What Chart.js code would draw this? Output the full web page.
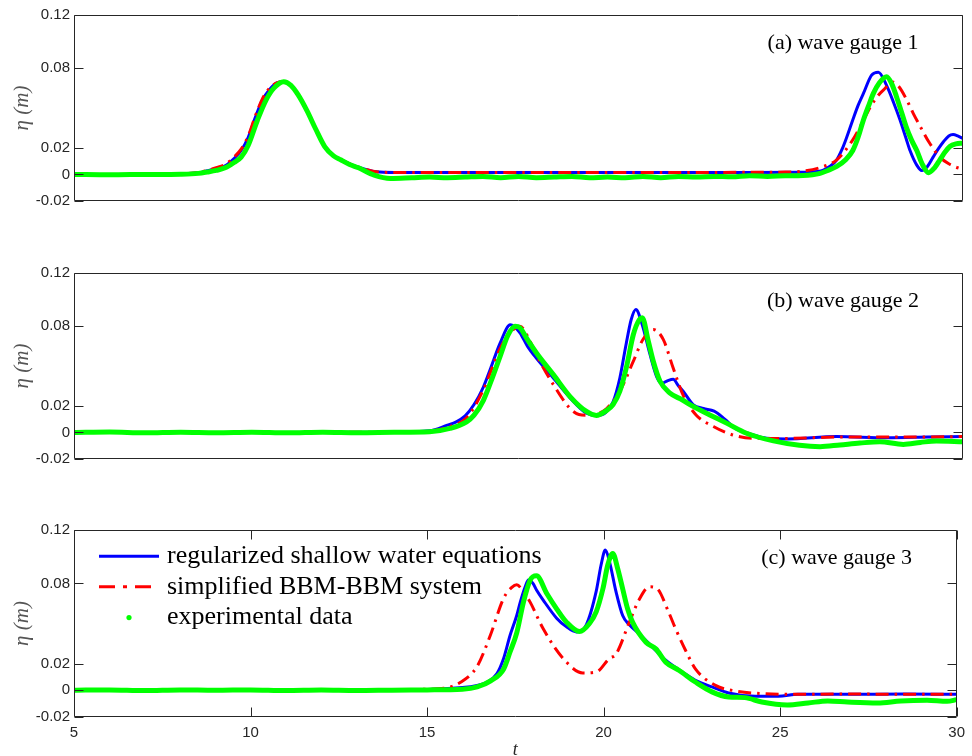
<!DOCTYPE html>
<html>
<head>
<meta charset="utf-8">
<script src="https://cdn.jsdelivr.net/npm/chart.js@4.4.1/dist/chart.umd.min.js"></script>
<style>
  html, body { margin: 0; padding: 0; background: #fff; }
  #wrap { position: relative; width: 972px; height: 756px; }
  #wrap canvas { position: absolute; left: 0; top: 0; }
</style>
</head>
<body>
<div id="wrap">
  <canvas id="gauge1" width="972" height="756"></canvas>
  <canvas id="gauge2" width="972" height="756"></canvas>
  <canvas id="gauge3" width="972" height="756"></canvas>
</div>
<script>
// axis ticks, same for the three gauges
const xTicks = [5, 10, 15, 20, 25, 30];
const yTicks = [-0.02, 0, 0.02, 0.08, 0.12];
const yTickLabels = ['-0.02', '0', '0.02', '0.08', '0.12'];

const seriesNames = ['regularized shallow water equations', 'simplified BBM-BBM system', 'experimental data'];
const panelTitles = ['(a) wave gauge 1', '(b) wave gauge 2', '(c) wave gauge 3'];

// wave gauge 1, [t, eta]
const gauge1Rsw = [[5,0],[7,0],[8,0.0004],[8.5,0.0012],[8.75,0.0028],[9,0.0045],[9.25,0.0065],[9.5,0.012],[9.7,0.018],[9.9,0.028],[10.1,0.043],[10.3,0.056],[10.5,0.064],[10.7,0.069],[10.9,0.0698],[11.1,0.067],[11.3,0.06],[11.55,0.048],[11.8,0.034],[12.05,0.021],[12.3,0.014],[12.5,0.011],[12.75,0.008],[13,0.0055],[13.5,0.002],[14,0.0015],[18,0.0015],[22,0.0015],[24,0.0015],[25.5,0.0017],[26,0.0026],[26.25,0.006],[26.45,0.011],[26.6,0.019],[26.73,0.028],[26.9,0.041],[27.05,0.052],[27.2,0.061],[27.43,0.0748],[27.62,0.077],[27.85,0.067],[28.05,0.054],[28.23,0.041],[28.4,0.027],[28.51,0.018],[28.7,0.007],[28.84,0.003],[29,0.006],[29.16,0.013],[29.3,0.019],[29.45,0.0246],[29.6,0.029],[29.72,0.03],[29.85,0.029],[30,0.027]];
const gauge1Bbm = [[5,0],[7,0],[8,0.0005],[8.5,0.0014],[8.75,0.003],[9,0.005],[9.25,0.0075],[9.5,0.013],[9.7,0.019],[9.9,0.029],[10.1,0.044],[10.3,0.057],[10.5,0.065],[10.7,0.069],[10.9,0.0698],[11.1,0.067],[11.3,0.06],[11.55,0.048],[11.8,0.034],[12.05,0.021],[12.3,0.014],[12.5,0.011],[12.75,0.008],[13,0.0055],[13.5,0.002],[14,0.0015],[18,0.0015],[22,0.0015],[24,0.0016],[25,0.0018],[25.5,0.0025],[26,0.0053],[26.45,0.011],[26.9,0.026],[27.15,0.038],[27.4,0.051],[27.6,0.059],[27.76,0.0635],[28.03,0.0695],[28.2,0.066],[28.42,0.056],[28.6,0.046],[28.8,0.036],[29.05,0.024],[29.35,0.013],[29.6,0.008],[29.9,0.0046],[30,0.004]];
const gauge1Exp = [[5,0],[6,-0.0003],[7,0],[8,0.0002],[8.5,0.0008],[8.75,0.0018],[9,0.003],[9.25,0.005],[9.5,0.009],[9.7,0.013],[9.9,0.022],[10.16,0.041],[10.4,0.056],[10.62,0.065],[10.9,0.0698],[11.1,0.067],[11.3,0.06],[11.55,0.048],[11.8,0.034],[12.05,0.021],[12.3,0.014],[12.5,0.011],[12.75,0.0075],[13,0.005],[13.44,-0.0005],[13.9,-0.003],[14.5,-0.0025],[15,-0.002],[15.5,-0.0025],[16,-0.002],[16.5,-0.0015],[17,-0.0025],[17.5,-0.0015],[18,-0.0025],[18.5,-0.002],[19,-0.0015],[19.5,-0.0025],[20,-0.002],[20.5,-0.0025],[21,-0.0015],[21.5,-0.0025],[22,-0.0015],[22.5,-0.002],[23,-0.0015],[23.5,-0.0018],[24,-0.001],[24.5,-0.0015],[25,-0.001],[25.5,-0.0008],[25.98,0.0008],[26.2,0.003],[26.45,0.006],[26.7,0.011],[26.9,0.018],[27.05,0.028],[27.2,0.041],[27.35,0.052],[27.48,0.061],[27.65,0.069],[27.85,0.0735],[28,0.068],[28.13,0.0585],[28.27,0.047],[28.4,0.036],[28.55,0.026],[28.7,0.018],[28.85,0.008],[29.03,0.0013],[29.2,0.005],[29.35,0.011],[29.5,0.017],[29.63,0.021],[29.8,0.023],[30,0.0235]];

// wave gauge 2
const gauge2Rsw = [[5,0],[10,0],[14,0.0002],[15,0.0012],[15.5,0.0055],[15.75,0.008],[16,0.0125],[16.25,0.021],[16.51,0.034],[16.72,0.0485],[16.98,0.067],[17.27,0.081],[17.54,0.075],[17.75,0.065],[18,0.056],[18.48,0.041],[18.95,0.026],[19.41,0.0145],[19.69,0.0128],[19.95,0.015],[20.16,0.023],[20.35,0.041],[20.53,0.067],[20.67,0.085],[20.8,0.0925],[20.98,0.081],[21.2,0.0585],[21.4,0.041],[21.53,0.037],[21.7,0.039],[21.85,0.04],[22,0.035],[22.13,0.031],[22.41,0.021],[22.7,0.018],[23,0.016],[23.3,0.01],[23.6,0.003],[24,-0.001],[24.48,-0.0044],[25.04,-0.0049],[26.45,-0.0031],[27.85,-0.004],[29,-0.0035],[30,-0.003]];
const gauge2Bbm = [[5,0],[10,0],[14,0.0002],[15,0.001],[15.57,0.0045],[16.04,0.011],[16.51,0.032],[16.98,0.063],[17.3,0.076],[17.54,0.08],[17.8,0.07],[18,0.0585],[18.48,0.036],[18.95,0.018],[19.2,0.0135],[19.41,0.013],[19.7,0.014],[19.98,0.018],[20.35,0.031],[20.73,0.0536],[21,0.07],[21.29,0.0775],[21.57,0.07],[21.85,0.0485],[22.13,0.028],[22.5,0.013],[22.98,0.0045],[23.54,-0.002],[24.1,-0.0044],[25,-0.0045],[26.5,-0.0035],[28,-0.0035],[29,-0.0035],[30,-0.003]];
const gauge2Exp = [[5,0],[6,0.0003],[7,-0.0003],[8,0.0002],[9,-0.0002],[10,0.0002],[11,-0.0003],[12,0.0002],[13,-0.0002],[14,0.0001],[15,0.0005],[15.57,0.003],[16.04,0.008],[16.25,0.013],[16.51,0.024],[16.72,0.038],[16.98,0.057],[17.2,0.073],[17.4,0.08],[17.54,0.0788],[17.75,0.07],[18,0.06],[18.48,0.0435],[18.95,0.027],[19.41,0.0158],[19.69,0.0128],[19.95,0.016],[20.16,0.021],[20.35,0.031],[20.53,0.0485],[20.73,0.0737],[20.9,0.085],[20.98,0.0863],[21.15,0.0687],[21.29,0.0536],[21.48,0.0385],[21.76,0.0296],[22.1,0.0246],[22.41,0.0196],[22.88,0.0132],[23.35,0.007],[23.91,-0.0006],[24.67,-0.0064],[25.4,-0.0097],[25.98,-0.0107],[26.54,-0.0094],[27.1,-0.008],[27.66,-0.007],[28.32,-0.009],[28.8,-0.0075],[29.25,-0.0064],[30,-0.007]];

// wave gauge 3
const gauge3Rsw = [[5,0],[10,0],[14,0.0002],[15,0.0005],[16,0.002],[16.42,0.0037],[16.7,0.006],[16.98,0.0125],[17.17,0.024],[17.35,0.041],[17.54,0.056],[17.64,0.066],[17.78,0.0775],[17.87,0.0825],[18,0.08],[18.1,0.075],[18.29,0.0675],[18.67,0.054],[18.95,0.0475],[19.23,0.0437],[19.51,0.049],[19.79,0.074],[19.93,0.094],[20.05,0.105],[20.17,0.096],[20.35,0.074],[20.54,0.056],[20.73,0.049],[21,0.0425],[21.38,0.0325],[21.76,0.0225],[22.23,0.0137],[22.6,0.0075],[23.07,0.0025],[23.54,-0.002],[24.29,-0.0045],[24.95,-0.0045],[25.5,-0.003],[27,-0.003],[28.5,-0.0028],[30,-0.003]];
const gauge3Bbm = [[5,0],[10,0],[14,0.0002],[15,0.0008],[15.48,0.0015],[15.95,0.006],[16.42,0.018],[16.79,0.041],[17.17,0.069],[17.4,0.077],[17.54,0.079],[17.7,0.075],[17.92,0.066],[18.29,0.046],[18.85,0.024],[19.41,0.013],[19.79,0.0137],[20.17,0.024],[20.35,0.027],[20.73,0.051],[21,0.0675],[21.3,0.0775],[21.5,0.0765],[21.85,0.058],[22.04,0.046],[22.32,0.03],[22.6,0.016],[23.17,0.0037],[23.73,-0.0005],[24.48,-0.0025],[25.5,-0.003],[27,-0.0028],[28.5,-0.003],[30,-0.003]];
const gauge3Exp = [[5,0],[6,0.0003],[7,-0.0002],[8,0.0003],[9,0],[10,0.0003],[11,-0.0002],[12,0.0002],[13,-0.0002],[14,0.0001],[15,0.0003],[16,0.0008],[16.42,0.0025],[16.8,0.007],[17.17,0.016],[17.35,0.0287],[17.54,0.043],[17.73,0.066],[17.92,0.0825],[18.1,0.0857],[18.39,0.0725],[18.67,0.061],[18.95,0.051],[19.32,0.044],[19.6,0.05],[19.79,0.0587],[19.98,0.076],[20.12,0.094],[20.26,0.1025],[20.4,0.091],[20.54,0.076],[20.68,0.061],[20.82,0.051],[21.2,0.036],[21.48,0.031],[21.76,0.021],[22.13,0.015],[22.6,0.0062],[23.07,-0.0012],[23.54,-0.005],[24,-0.0055],[24.48,-0.0088],[25.2,-0.011],[25.79,-0.0095],[26.35,-0.008],[26.91,-0.0088],[27.76,-0.0095],[28.42,-0.008],[29.16,-0.0075],[29.73,-0.0083],[30,-0.007]];

const BLUE = '#0000ff';
const RED = '#ff0000';
const GREEN = '#00ff00';
const AXIS = '#262626';
const RED_DASH = [13, 6, 2.5, 6];

// box, inward ticks, panel caption and (on the last panel) the legend
const framePlugin = {
    id: 'frame',
    afterDraw(chart, args, opts) {
        const { ctx, chartArea: a, scales } = chart;
        const left = Math.round(a.left) + 0.5, right = Math.round(a.right) - 0.5;
        const top = Math.round(a.top) + 0.5, bottom = Math.round(a.bottom) - 0.5;
        ctx.save();
        ctx.strokeStyle = AXIS;
        ctx.lineWidth = 1;
        ctx.beginPath();
        ctx.rect(left, top, right - left, bottom - top);
        yTicks.forEach(v => {
            const py = Math.round(scales.y.getPixelForValue(v)) + 0.5;
            ctx.moveTo(left, py); ctx.lineTo(left + 9, py);
            ctx.moveTo(right, py); ctx.lineTo(right - 9, py);
        });
        if (opts.xTicks) {
            xTicks.forEach(v => {
                const px = Math.round(scales.x.getPixelForValue(v)) + 0.5;
                ctx.moveTo(px, top); ctx.lineTo(px, top + 9);
                ctx.moveTo(px, bottom); ctx.lineTo(px, bottom - 9);
            });
        }
        ctx.stroke();

        ctx.fillStyle = '#000';
        ctx.font = '22px "Liberation Serif"';
        ctx.textAlign = 'center';
        ctx.textBaseline = 'middle';
        ctx.fillText(opts.title, a.right - 120, a.top + 28.5);

        if (opts.legend) {
            const rows = [a.top + 26.3, a.top + 56.8, a.top + 87.6];
            const x0 = a.left + 25, x1 = a.left + 85;
            ctx.lineWidth = 3;
            ctx.strokeStyle = BLUE;
            ctx.beginPath(); ctx.moveTo(x0, rows[0]); ctx.lineTo(x1, rows[0]); ctx.stroke();
            ctx.strokeStyle = RED;
            ctx.setLineDash([16, 8, 4, 8]);
            ctx.beginPath(); ctx.moveTo(x0, rows[1]); ctx.lineTo(x1, rows[1]); ctx.stroke();
            ctx.setLineDash([]);
            ctx.fillStyle = GREEN;
            ctx.beginPath(); ctx.arc((x0 + x1) / 2, rows[2], 2.6, 0, Math.PI * 2); ctx.fill();
            ctx.fillStyle = '#000';
            ctx.font = '26px "Liberation Serif"';
            ctx.textAlign = 'left';
            seriesNames.forEach((name, i) => ctx.fillText(name, a.left + 93, rows[i]));
        }
        ctx.restore();
    }
};

function toPoints(pairs) {
    return pairs.map(p => ({ x: p[0], y: p[1] }));
}

function makeGauge(canvasId, rsw, bbm, exp, panel) {
    const last = panel === 2;
    const tops = [15, 273, 530];
    const bottoms = [555, 297, 0];
    new Chart(document.getElementById(canvasId), {
        type: 'line',
        data: {
            datasets: [
                { label: seriesNames[0], data: toPoints(rsw), borderColor: BLUE, borderWidth: 3, order: 3 },
                { label: seriesNames[1], data: toPoints(bbm), borderColor: RED, borderWidth: 3, borderDash: RED_DASH, order: 2 },
                { label: seriesNames[2], data: toPoints(exp), borderColor: GREEN, borderWidth: 5, order: 1 }
            ]
        },
        options: {
            responsive: false,
            animation: false,
            events: [],
            devicePixelRatio: 1,
            layout: { padding: { top: tops[panel], right: 9, bottom: bottoms[panel], left: 0 } },
            elements: {
                point: { radius: 0 },
                line: { cubicInterpolationMode: 'monotone', fill: false }
            },
            scales: {
                x: {
                    type: 'linear',
                    min: 5,
                    max: 30,
                    display: last,
                    afterBuildTicks: (scale) => { scale.ticks = xTicks.map(v => ({ value: v })); },
                    afterFit: (scale) => { scale.height = last ? 39 : 0; },
                    grid: { display: false, drawTicks: false },
                    border: { display: false },
                    ticks: {
                        autoSkip: false,
                        maxRotation: 0,
                        padding: 7,
                        color: AXIS,
                        font: { family: '"Liberation Sans"', size: 15 }
                    },
                    title: {
                        display: true,
                        text: 't',
                        color: AXIS,
                        padding: { top: 0, bottom: -3 },
                        font: { family: '"Liberation Serif"', size: 18, style: 'italic', lineHeight: 1 }
                    }
                },
                y: {
                    type: 'linear',
                    min: -0.02,
                    max: 0.12,
                    afterBuildTicks: (scale) => { scale.ticks = yTicks.map(v => ({ value: v })); },
                    afterFit: (scale) => { scale.width = 74; },
                    grid: { display: false, drawTicks: false },
                    border: { display: false },
                    ticks: {
                        autoSkip: false,
                        padding: 4,
                        color: AXIS,
                        font: { family: '"Liberation Sans"', size: 15 },
                        callback: (value) => yTickLabels[yTicks.indexOf(value)]
                    },
                    title: {
                        display: true,
                        text: 'η (m)',
                        color: '#555555',
                        padding: { top: 10, bottom: 0 },
                        font: { family: '"Liberation Serif"', size: 21, style: 'italic' }
                    }
                }
            },
            plugins: {
                legend: { display: false },
                tooltip: { enabled: false },
                frame: { title: panelTitles[panel], legend: last, xTicks: last }
            }
        },
        plugins: [framePlugin]
    });
}

makeGauge('gauge1', gauge1Rsw, gauge1Bbm, gauge1Exp, 0);
makeGauge('gauge2', gauge2Rsw, gauge2Bbm, gauge2Exp, 1);
makeGauge('gauge3', gauge3Rsw, gauge3Bbm, gauge3Exp, 2);
</script>
</body>
</html>
